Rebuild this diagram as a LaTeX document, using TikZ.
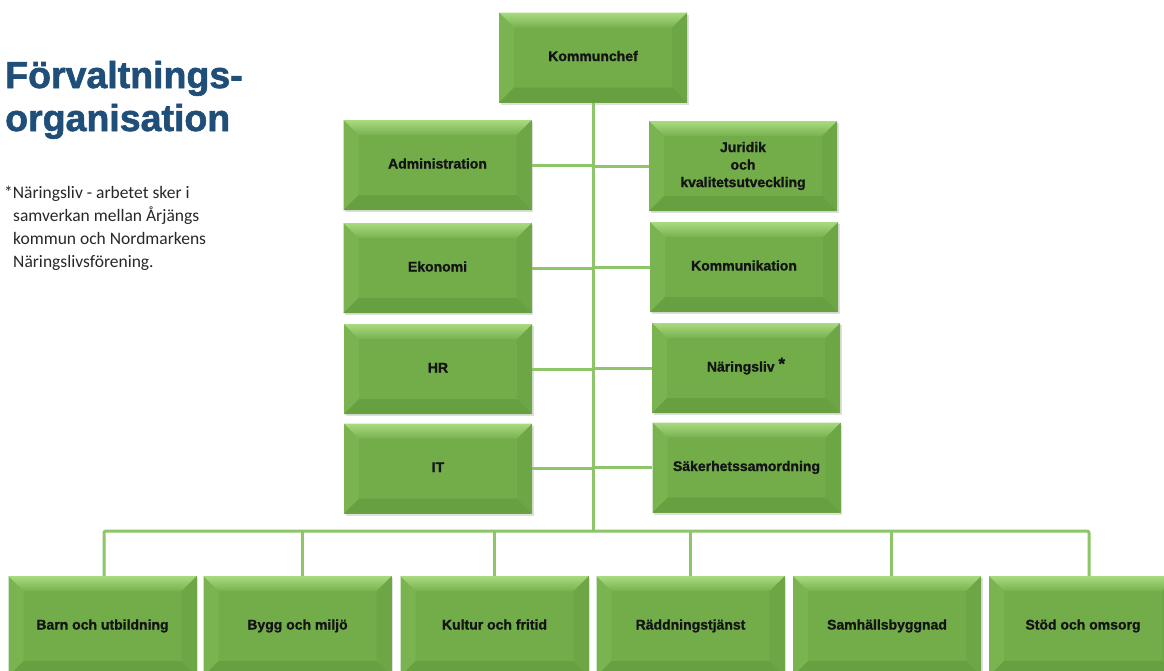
\documentclass[tikz,border=0pt]{standalone}
\usepackage{fontspec}
\setmainfont{Liberation Sans}
\newfontfamily\notefont{Carlito}
\newfontfamily\titlefont[BoldFeatures={FakeBold=1.6}]{Liberation Sans}
\newfontfamily\boxfont[BoldFeatures={FakeBold=1.2}]{Liberation Sans}
\usetikzlibrary{shadows}
\definecolor{gmid}{RGB}{114,173,74}
\definecolor{gtop}{RGB}{170,218,128}
\definecolor{gleft}{RGB}{121,180,81}
\definecolor{gright}{RGB}{108,166,69}
\definecolor{gbot}{RGB}{103,160,65}
\definecolor{lineg}{RGB}{140,198,104}
\definecolor{titleblue}{RGB}{31,78,121}
\definecolor{notegray}{RGB}{40,40,40}
\tikzset{
  gbox/.style={rectangle, minimum width=188pt, minimum height=90pt, inner sep=0pt,
    fill=gmid, align=center, text=black!92,
    text height=10pt, text depth=3pt,
    font=\boxfont\fontsize{14}{17.5}\selectfont\bfseries,
    drop shadow={opacity=0.25, shadow xshift=1.5pt, shadow yshift=-2pt},
    path picture={
      \fill[gleft] (path picture bounding box.north west)
        -- ([xshift=15pt,yshift=-15pt]path picture bounding box.north west)
        -- ([xshift=15pt,yshift=15pt]path picture bounding box.south west)
        -- (path picture bounding box.south west) -- cycle;
      \fill[gright] (path picture bounding box.north east)
        -- (path picture bounding box.south east)
        -- ([xshift=-15pt,yshift=15pt]path picture bounding box.south east)
        -- ([xshift=-15pt,yshift=-15pt]path picture bounding box.north east) -- cycle;
      \fill[gbot] (path picture bounding box.south west) -- (path picture bounding box.south east)
        -- ([xshift=-15pt,yshift=15pt]path picture bounding box.south east)
        -- ([xshift=15pt,yshift=15pt]path picture bounding box.south west) -- cycle;
      \shade[top color=gtop, bottom color=gmid!90!gtop] (path picture bounding box.north west) -- (path picture bounding box.north east)
        -- ([xshift=-15pt,yshift=-15pt]path picture bounding box.north east)
        -- ([xshift=15pt,yshift=-15pt]path picture bounding box.north west) -- cycle;
    }},
  lowbox/.style={gbox, minimum height=100pt},
  conn/.style={draw=lineg, line width=3pt},
  titletext/.style={anchor=base west, inner sep=0pt, text=titleblue,
    font=\titlefont\fontsize{37.5}{42}\selectfont\bfseries},
  notetext/.style={anchor=base west, inner sep=0pt, text=notegray,
    font=\notefont\fontsize{17.5}{23}\selectfont},
}
\begin{document}
\begin{tikzpicture}[x=1pt,y=-1pt]
\useasboundingbox (0,0) rectangle (1164,670);
\begin{scope}
\clip (0,0) rectangle (1164,670);
\fill[white] (0,0) rectangle (1164,670);

% title and note
\node[titletext] (t1) at (5,88) {Förvaltnings-};
\node[titletext] (t2) at (5,131) {organisation};
\node[notetext] (n1) at (4,198) {*Näringsliv - arbetet sker i};
\node[notetext] (n2) at (13,221) {samverkan mellan Årjängs};
\node[notetext] (n3) at (13,244) {kommun och Nordmarkens};
\node[notetext] (n4) at (13,267) {Näringslivsförening.};

% boxes
\node[gbox] (kc) at (593,57.5) {Kommunchef};
\node[gbox] (adm) at (437.5,165) {Administration};
\node[gbox] (eko) at (437.5,268) {Ekonomi};
\node[gbox] (hr) at (438,369) {HR};
\node[gbox] (it) at (438,468.5) {IT};
\node[gbox, text height=, text depth=] (jur) at (743,166) {Juridik\\och\\kvalitetsutveckling};
\node[gbox] (kom) at (744,267) {Kommunikation};
\node[gbox] (nar) at (746,368) {Näringsliv {\raisebox{2pt}{\fontsize{17}{17}\selectfont *}}};
\node[gbox] (sak) at (746.5,467.5) {Säkerhetssamordning};

\node[lowbox] (barn) at (102.5,626) {Barn och utbildning};
\node[lowbox] (bygg) at (297.5,626) {Bygg och miljö};
\node[lowbox] (kult) at (494.5,626) {Kultur och fritid};
\node[lowbox] (radd) at (690.5,626) {Räddningstjänst};
\node[lowbox] (samh) at (887,626) {Samhällsbyggnad};
\node[lowbox] (stod) at (1083,626) {Stöd och omsorg};

% connectors
\coordinate (bus) at (594,531);
\draw[conn] (kc.south) -- (kc.south |- bus);
\foreach \n in {adm,eko,hr,it}{
  \draw[conn] (\n.east) -- (\n.east -| bus);
}
\foreach \n in {jur,kom,nar,sak}{
  \draw[conn] (\n.west) -- (\n.west -| bus);
}
\draw[conn, rounded corners=2pt] ([xshift=1.5pt]barn.north) |- (bus) -| ([xshift=6pt]stod.north);
\draw[conn] ([xshift=4.5pt]bygg.north) -- ([xshift=4.5pt]bygg.north |- bus);
\draw[conn] (kult.north) -- (kult.north |- bus);
\draw[conn] (radd.north) -- (radd.north |- bus);
\draw[conn] ([xshift=4pt]samh.north) -- ([xshift=4pt]samh.north |- bus);
\end{scope}
\end{tikzpicture}
\end{document}
